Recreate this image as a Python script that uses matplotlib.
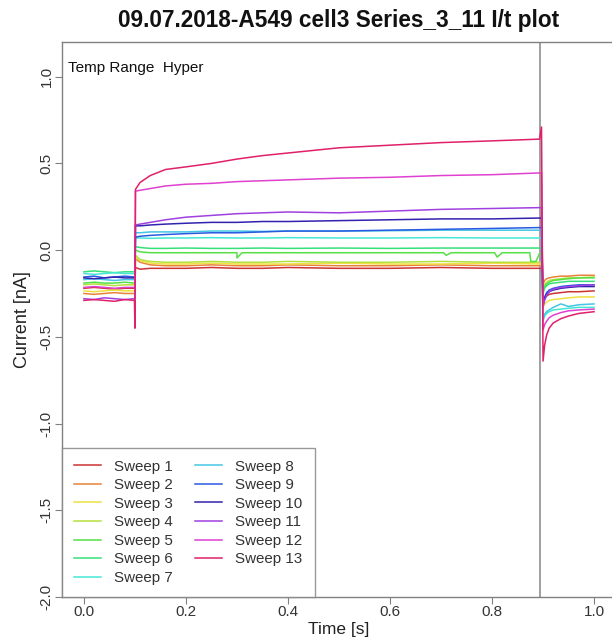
import numpy as np
import matplotlib
matplotlib.use("Agg")
import matplotlib.pyplot as plt

plt.rcParams['font.family'] = ['Liberation Sans', 'DejaVu Sans']

title = "09.07.2018-A549 cell3 Series_3_11 I/t plot"
note = "Temp Range  Hyper"
labels = ["Sweep %d" % i for i in range(1, 14)]
colors = ["#cc3333", "#e8823a", "#eee040", "#b5e040", "#55e045", "#35e07a", "#45e8d5",
          "#45c5e5", "#2a5ae0", "#3322b0", "#a040e0", "#e040d0", "#e0206a"]

# time grids (s) for the three protocol segments
t_pre = [0.0, 0.02, 0.04, 0.06, 0.08, 0.099]
t_step = [0.1, 0.101, 0.11, 0.13, 0.16, 0.2, 0.25, 0.3, 0.35, 0.4, 0.5, 0.6, 0.7, 0.8, 0.893, 0.897]
t_post = [0.9, 0.903, 0.907, 0.912, 0.92, 0.935, 0.95, 0.97, 1.0]

# current (nA)
pre = [
    [-0.22, -0.215, -0.22, -0.225, -0.22, -0.22],
    [-0.25, -0.255, -0.25, -0.245, -0.25, -0.25],
    [-0.235, -0.24, -0.235, -0.23, -0.235, -0.235],
    [-0.20, -0.195, -0.20, -0.205, -0.20, -0.20],
    [-0.19, -0.185, -0.19, -0.19, -0.185, -0.19],
    [-0.125, -0.12, -0.125, -0.13, -0.125, -0.125],
    [-0.135, -0.14, -0.135, -0.13, -0.135, -0.135],
    [-0.17, -0.165, -0.17, -0.175, -0.17, -0.17],
    [-0.155, -0.15, -0.16, -0.155, -0.15, -0.155],
    [-0.16, -0.165, -0.16, -0.155, -0.16, -0.16],
    [-0.28, -0.285, -0.275, -0.28, -0.285, -0.28],
    [-0.215, -0.21, -0.215, -0.22, -0.215, -0.215],
    [-0.29, -0.285, -0.29, -0.295, -0.285, -0.29],
]
step = [
    [-0.22, -0.10, -0.11, -0.105, -0.105, -0.105, -0.10, -0.105, -0.105, -0.10, -0.105, -0.105, -0.10, -0.105, -0.105, -0.105],
    [-0.25, -0.05, -0.07, -0.085, -0.09, -0.09, -0.085, -0.09, -0.09, -0.085, -0.09, -0.09, -0.085, -0.09, -0.09, -0.09],
    [-0.235, -0.03, -0.06, -0.075, -0.08, -0.08, -0.075, -0.08, -0.08, -0.08, -0.075, -0.08, -0.08, -0.075, -0.08, -0.08],
    [-0.20, -0.03, -0.055, -0.065, -0.07, -0.07, -0.065, -0.07, -0.07, -0.065, -0.07, -0.07, -0.065, -0.07, -0.07, -0.07],
    [-0.19, 0.0, -0.01, -0.015, -0.015, -0.015, -0.015, -0.015, -0.015, -0.015, -0.015, -0.015, -0.015, -0.015, -0.02, -0.015],
    [-0.125, 0.02, 0.015, 0.01, 0.01, 0.012, 0.01, 0.01, 0.012, 0.01, 0.012, 0.01, 0.012, 0.012, 0.012, 0.012],
    [-0.135, 0.07, 0.07, 0.068, 0.07, 0.07, 0.072, 0.07, 0.07, 0.072, 0.07, 0.07, 0.072, 0.07, 0.07, 0.07],
    [-0.17, 0.10, 0.10, 0.105, 0.105, 0.105, 0.11, 0.11, 0.108, 0.11, 0.11, 0.112, 0.115, 0.115, 0.115, 0.115],
    [-0.155, 0.075, 0.08, 0.085, 0.09, 0.095, 0.10, 0.10, 0.105, 0.11, 0.11, 0.115, 0.12, 0.125, 0.13, 0.13],
    [-0.16, 0.14, 0.14, 0.145, 0.15, 0.155, 0.16, 0.16, 0.165, 0.165, 0.17, 0.175, 0.18, 0.18, 0.185, 0.185],
    [-0.28, 0.145, 0.15, 0.16, 0.175, 0.19, 0.20, 0.21, 0.215, 0.22, 0.215, 0.225, 0.235, 0.24, 0.245, 0.245],
    [-0.215, 0.34, 0.345, 0.355, 0.37, 0.38, 0.385, 0.395, 0.40, 0.405, 0.415, 0.42, 0.43, 0.435, 0.445, 0.445],
    [-0.45, 0.35, 0.39, 0.43, 0.465, 0.48, 0.50, 0.525, 0.545, 0.56, 0.59, 0.605, 0.62, 0.63, 0.64, 0.71],
]
post = [
    [-0.30, -0.28, -0.265, -0.255, -0.25, -0.245, -0.24, -0.24, -0.235],
    [-0.20, -0.175, -0.165, -0.16, -0.155, -0.15, -0.15, -0.145, -0.145],
    [-0.33, -0.31, -0.30, -0.29, -0.285, -0.28, -0.275, -0.27, -0.27],
    [-0.23, -0.20, -0.185, -0.175, -0.17, -0.165, -0.16, -0.16, -0.155],
    [-0.24, -0.21, -0.195, -0.185, -0.175, -0.17, -0.165, -0.16, -0.16],
    [-0.25, -0.22, -0.205, -0.195, -0.19, -0.185, -0.18, -0.18, -0.18],
    [-0.41, -0.38, -0.365, -0.355, -0.345, -0.34, -0.335, -0.33, -0.33],
    [-0.40, -0.37, -0.355, -0.345, -0.33, -0.31, -0.325, -0.315, -0.31],
    [-0.30, -0.27, -0.245, -0.23, -0.22, -0.21, -0.205, -0.20, -0.20],
    [-0.31, -0.28, -0.255, -0.24, -0.23, -0.22, -0.215, -0.21, -0.21],
    [-0.33, -0.29, -0.26, -0.24, -0.225, -0.215, -0.21, -0.205, -0.20],
    [-0.46, -0.43, -0.41, -0.39, -0.375, -0.36, -0.35, -0.345, -0.34],
    [-0.64, -0.55, -0.49, -0.45, -0.42, -0.395, -0.38, -0.365, -0.355],
]
# small artefact dips seen in sweep 5
dip5_t = [0.295, 0.30, 0.31, 0.705, 0.71, 0.72, 0.805, 0.81, 0.82, 0.874, 0.876, 0.886]
dip5_v = [-0.015, -0.045, -0.015, -0.015, -0.03, -0.015, -0.015, -0.04, -0.015, -0.015, -0.065, -0.065]

marker_t = 0.894

fig = plt.figure(figsize=(6.12, 6.39), dpi=100)
ax = fig.add_axes([62 / 612, 42 / 639, 554 / 612, 555 / 639])

for i in range(13):
    t = np.array(t_pre + t_step + t_post)
    y = np.array(pre[i] + step[i] + post[i])
    if i == 4:
        t = np.concatenate([t, dip5_t])
        y = np.concatenate([y, dip5_v])
        o = np.argsort(t, kind="stable")
        t, y = t[o], y[o]
    ax.plot(t, y, color=colors[i], lw=1.1, label=labels[i])

ax.axvline(marker_t, color="#999999", lw=1.3, zorder=0)

ax.set_xlim(-0.043, 1.043)
ax.set_ylim(-1.99, 1.20)
ax.set_xticks([0.0, 0.2, 0.4, 0.6, 0.8, 1.0])
ax.set_xticklabels(["0.0", "0.2", "0.4", "0.6", "0.8", "1.0"])
ax.set_yticks([-2.0, -1.5, -1.0, -0.5, 0.0, 0.5, 1.0])
ax.set_yticklabels(["-2.0", "-1.5", "-1.0", "-0.5", "0.0", "0.5", "1.0"], rotation=90, va="center")
ax.tick_params(direction="out", length=5, color="#808080", labelcolor="#333333", labelsize=11)
ax.tick_params(axis="x", pad=1)
ax.tick_params(axis="y", pad=1)
for s in ax.spines.values():
    s.set_color("#808080")
    s.set_linewidth(1.0)

ax.set_xlabel("Time [s]", fontsize=12.5, color="#222222", labelpad=2)
ax.set_ylabel("Current [nA]", fontsize=13, color="#222222", labelpad=6)
ax.text(0.011, 0.965, note, transform=ax.transAxes, fontsize=11, va="top", ha="left", color="#111111")
fig.text(339 / 612, 1 - 21 / 639, title, ha="center", va="center", fontsize=16.3, fontweight="bold", color="#111111")

leg = ax.legend(loc="lower left", bbox_to_anchor=(0, 0), ncol=2, fontsize=10.9, frameon=True,
                fancybox=False, borderaxespad=0, handlelength=1.8, handletextpad=0.85,
                labelspacing=0.3, columnspacing=1.45, borderpad=0.8)
leg.get_frame().set_edgecolor("#808080")
leg.get_frame().set_linewidth(1.0)
for txt in leg.get_texts():
    txt.set_color("#333333")

fig.savefig("out.png", dpi=100)
